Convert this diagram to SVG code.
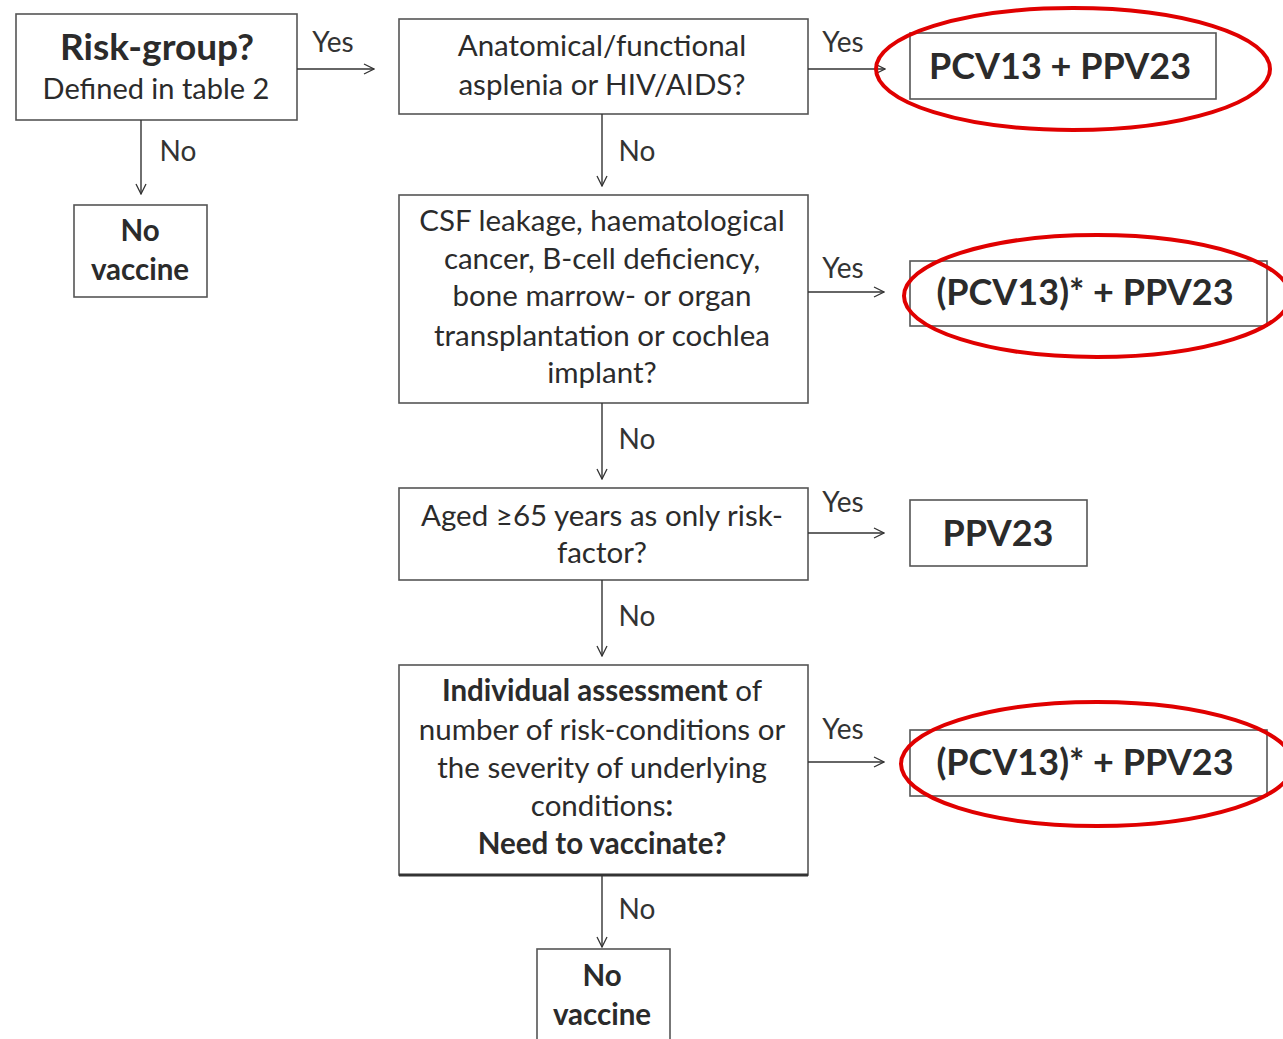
<svg xmlns="http://www.w3.org/2000/svg" width="1283" height="1039" viewBox="0 0 1283 1039">
<defs>
<marker id="ah" viewBox="0 0 12 12" refX="11" refY="6" markerWidth="12" markerHeight="12" markerUnits="userSpaceOnUse" orient="auto">
<path d="M1,1 L11,6 L1,11" fill="none" stroke="#333" stroke-width="1.3"/>
</marker>
<style>
.box{fill:#fff;stroke:#555;stroke-width:1.6}
.t{font-family:Lato,"Liberation Sans",sans-serif;fill:#2b2b2b;text-anchor:middle}
.n{font-size:29.5px}
.b{font-weight:bold}
.big{font-size:36px;font-weight:bold}
.lbl{font-family:Lato,"Liberation Sans",sans-serif;font-size:28px;fill:#333;text-anchor:middle}
.ln{stroke:#333;stroke-width:1.4;fill:none;marker-end:url(#ah)}
.ring{fill:none;stroke:#e00000;stroke-width:4}
</style>
</defs>
<rect width="1283" height="1039" fill="#fff"/>
<g id="risk"><rect class="box" x="16" y="14" width="281" height="106"/>
<text class="t b" x="157" y="60" font-size="37">Risk-group?</text>
<text class="t" x="156" y="99" font-size="29">Defined in table 2</text></g>
<g id="novac1"><rect class="box" x="74" y="205" width="133" height="92"/>
<text class="t b n" x="140" y="241">No</text>
<text class="t b n" x="140" y="280">vaccine</text></g>
<g id="asplenia"><rect class="box" x="399" y="19" width="409" height="95"/>
<text class="t n" x="602" y="56">Anatomical/functional</text>
<text class="t n" x="602" y="95">asplenia or HIV/AIDS?</text></g>
<g id="res1"><rect class="box" x="910" y="33" width="306" height="66"/>
<text class="t big" x="1060" y="79">PCV13 + PPV23</text></g>
<g id="csf"><rect class="box" x="399" y="195" width="409" height="208"/>
<text class="t n" x="602" y="231">CSF leakage, haematological</text>
<text class="t n" x="602" y="269">cancer, B-cell deficiency,</text>
<text class="t n" x="602" y="306">bone marrow- or organ</text>
<text class="t n" x="602" y="346">transplantation or cochlea</text>
<text class="t n" x="602" y="383">implant?</text></g>
<g id="res2"><rect class="box" x="910" y="261" width="357" height="65"/>
<text class="t big" x="1085" y="305">(PCV13)* + PPV23</text></g>
<g id="aged"><rect class="box" x="399" y="488" width="409" height="92"/>
<text class="t n" x="602" y="526">Aged ≥65 years as only risk-</text>
<text class="t n" x="602" y="563">factor?</text></g>
<g id="res3"><rect class="box" x="910" y="500" width="177" height="66"/>
<text class="t big" x="998" y="546">PPV23</text></g>
<g id="indiv"><rect class="box" x="399" y="665" width="409" height="210"/>
<line x1="399" y1="875" x2="808" y2="875" stroke="#333" stroke-width="3"/>
<text class="t n" x="602" y="701"><tspan class="b">Individual assessment</tspan> of</text>
<text class="t n" x="602" y="740">number of risk-conditions or</text>
<text class="t n" x="602" y="778">the severity of underlying</text>
<text class="t n" x="602" y="816">conditions<tspan class="b">:</tspan></text>
<text class="t n b" x="602" y="854">Need to vaccinate?</text></g>
<g id="res4"><rect class="box" x="910" y="730" width="357" height="66"/>
<text class="t big" x="1085" y="775">(PCV13)* + PPV23</text></g>
<g id="novac2"><rect class="box" x="537" y="949" width="133" height="100"/>
<text class="t b n" x="602" y="986">No</text>
<text class="t b n" x="602" y="1025">vaccine</text></g>
<g id="connectors">
<line class="ln" x1="297" y1="69" x2="374" y2="69"/>
<line class="ln" x1="141" y1="120" x2="141" y2="194"/>
<line class="ln" x1="808" y1="69" x2="885" y2="69"/>
<line class="ln" x1="602" y1="114" x2="602" y2="186"/>
<line class="ln" x1="808" y1="292" x2="884" y2="292"/>
<line class="ln" x1="602" y1="403" x2="602" y2="479"/>
<line class="ln" x1="808" y1="533" x2="884" y2="533"/>
<line class="ln" x1="602" y1="580" x2="602" y2="656"/>
<line class="ln" x1="808" y1="762" x2="884" y2="762"/>
<line class="ln" x1="602" y1="875" x2="602" y2="947"/>
<text class="lbl" x="333" y="52">Yes</text>
<text class="lbl" x="178" y="161">No</text>
<text class="lbl" x="843" y="52">Yes</text>
<text class="lbl" x="637" y="161">No</text>
<text class="lbl" x="843" y="278">Yes</text>
<text class="lbl" x="637" y="449">No</text>
<text class="lbl" x="843" y="512">Yes</text>
<text class="lbl" x="637" y="626">No</text>
<text class="lbl" x="843" y="739">Yes</text>
<text class="lbl" x="637" y="919">No</text>
</g>
<g id="highlights">
<ellipse class="ring" cx="1073" cy="69" rx="197" ry="61"/>
<ellipse class="ring" cx="1097" cy="296" rx="193" ry="61"/>
<ellipse class="ring" cx="1097" cy="764" rx="196" ry="62"/>
</g>
</svg>
